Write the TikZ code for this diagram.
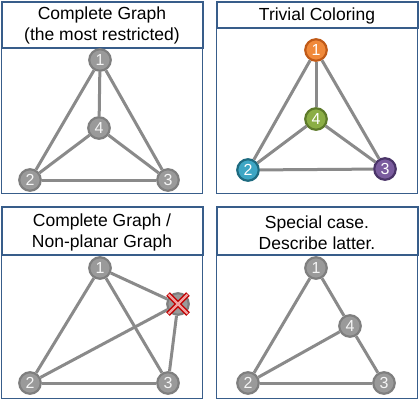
\documentclass[tikz,border=0pt]{standalone}
\usepackage{fontspec}
\setmainfont{Liberation Sans}
\definecolor{boxblue}{HTML}{385D8A}
\definecolor{edgegray}{HTML}{8A8A8A}
\definecolor{ngfill}{HTML}{9A9A9A}
\definecolor{ngdraw}{HTML}{7F7F7F}
\definecolor{orfill}{HTML}{F0893A}
\definecolor{ordraw}{HTML}{C05A17}
\definecolor{blfill}{HTML}{3DA6C4}
\definecolor{bldraw}{HTML}{1E6B80}
\definecolor{pufill}{HTML}{7A5C9E}
\definecolor{pudraw}{HTML}{4A3468}
\definecolor{grfill}{HTML}{8BAE45}
\definecolor{grdraw}{HTML}{5D7A2A}
\definecolor{xred}{HTML}{C00000}
\definecolor{xpink}{HTML}{F2A0A0}
\tikzset{
  panelbox/.style={draw=boxblue, line width=1.3pt},
  titlebox/.style={draw=boxblue, line width=2pt, fill=white},
  titletext/.style={align=center, font=\fontsize{17.5}{21}\selectfont, inner sep=0pt},
  vnode/.style={circle, minimum size=21.5pt, inner sep=0pt, line width=2.2pt,
    text=white, font=\fontsize{16}{16}\selectfont},
  gnode/.style={vnode, fill=ngfill, draw=ngdraw, text=white!92!gray},
  edge/.style={draw=edgegray, line width=3pt},
}
\begin{document}
\begin{tikzpicture}[x=1pt, y=-1pt]
\useasboundingbox (0,0) rectangle (420,400);
% panel frames
\draw[panelbox] (1.5,1.5) rectangle (202.5,193.5);
\draw[panelbox] (216.5,1.5) rectangle (417.5,193.5);
\draw[panelbox] (1.5,206.5) rectangle (202.5,398.5);
\draw[panelbox] (216.5,206.5) rectangle (417.5,398.5);
% title boxes
\draw[titlebox] (1.5,1.5) rectangle (202.5,48);
\draw[titlebox] (216.5,1.5) rectangle (417.5,28);
\draw[titlebox] (1.5,206.5) rectangle (202.5,255);
\draw[titlebox] (216.5,206.5) rectangle (417.5,255);
\node[titletext] (t1) at (102,25.5) {Complete Graph\\(the most restricted)};
\node[titletext] (t2) at (317,15.5) {Trivial Coloring};
\node[titletext] (t3) at (102,232.5) {Complete Graph /\\Non-planar Graph};
\node[titletext] (t4) at (317,233) {Special case.\\Describe latter.};
% panel 1
\node[gnode] (a1) at (100,60) {1};
\node[gnode] (a4) at (99,128) {4};
\node[gnode] (a2) at (30,180) {2};
\node[gnode] (a3) at (168,180) {3};
\draw[edge] (a1) -- (a4);
\draw[edge] (a1) -- (a2);
\draw[edge] (a1) -- (a3);
\draw[edge] (a2) -- (a3);
\draw[edge] (a2) -- (a4);
\draw[edge] (a3) -- (a4);
% panel 2
\node[vnode, fill=orfill, draw=ordraw] (b1) at (316,50) {1};
\node[vnode, fill=grfill, draw=grdraw] (b4) at (316,119) {4};
\node[vnode, fill=blfill, draw=bldraw] (b2) at (248,170) {2};
\node[vnode, fill=pufill, draw=pudraw] (b3) at (385,169) {3};
\draw[edge] (b1) -- (b4);
\draw[edge] (b1) -- (b2);
\draw[edge] (b1) -- (b3);
\draw[edge] (b2) -- (b3);
\draw[edge] (b2) -- (b4);
\draw[edge] (b3) -- (b4);
% panel 3
\node[gnode] (c1) at (100,268) {1};
\node[gnode] (cx) at (178,304) {};
\node[gnode] (c2) at (30,383) {2};
\node[gnode] (c3) at (168,383) {3};
\draw[edge] (c1) -- (cx);
\draw[edge] (c1) -- (c2);
\draw[edge] (c1) -- (c3);
\draw[edge] (c2) -- (c3);
\draw[edge] (c2) -- (cx);
\draw[edge] (cx) -- (c3);
\draw[xred, line width=5pt] (cx.center) ++(-10,-10) -- ++(20,20);
\draw[xred, line width=5pt] (cx.center) ++(10,-10) -- ++(-20,20);
\draw[xpink, line width=2.2pt] (cx.center) ++(-9.5,-9.5) -- ++(19,19);
\draw[xpink, line width=2.2pt] (cx.center) ++(9.5,-9.5) -- ++(-19,19);
% panel 4
\node[gnode] (d1) at (316,268) {1};
\node[gnode] (d4) at (350,326) {4};
\node[gnode] (d2) at (248,383) {2};
\node[gnode] (d3) at (384,383) {3};
\draw[edge] (d1) -- (d2);
\draw[edge] (d1) -- (d4);
\draw[edge] (d4) -- (d3);
\draw[edge] (d2) -- (d3);
\draw[edge] (d2) -- (d4);
\end{tikzpicture}
\end{document}
